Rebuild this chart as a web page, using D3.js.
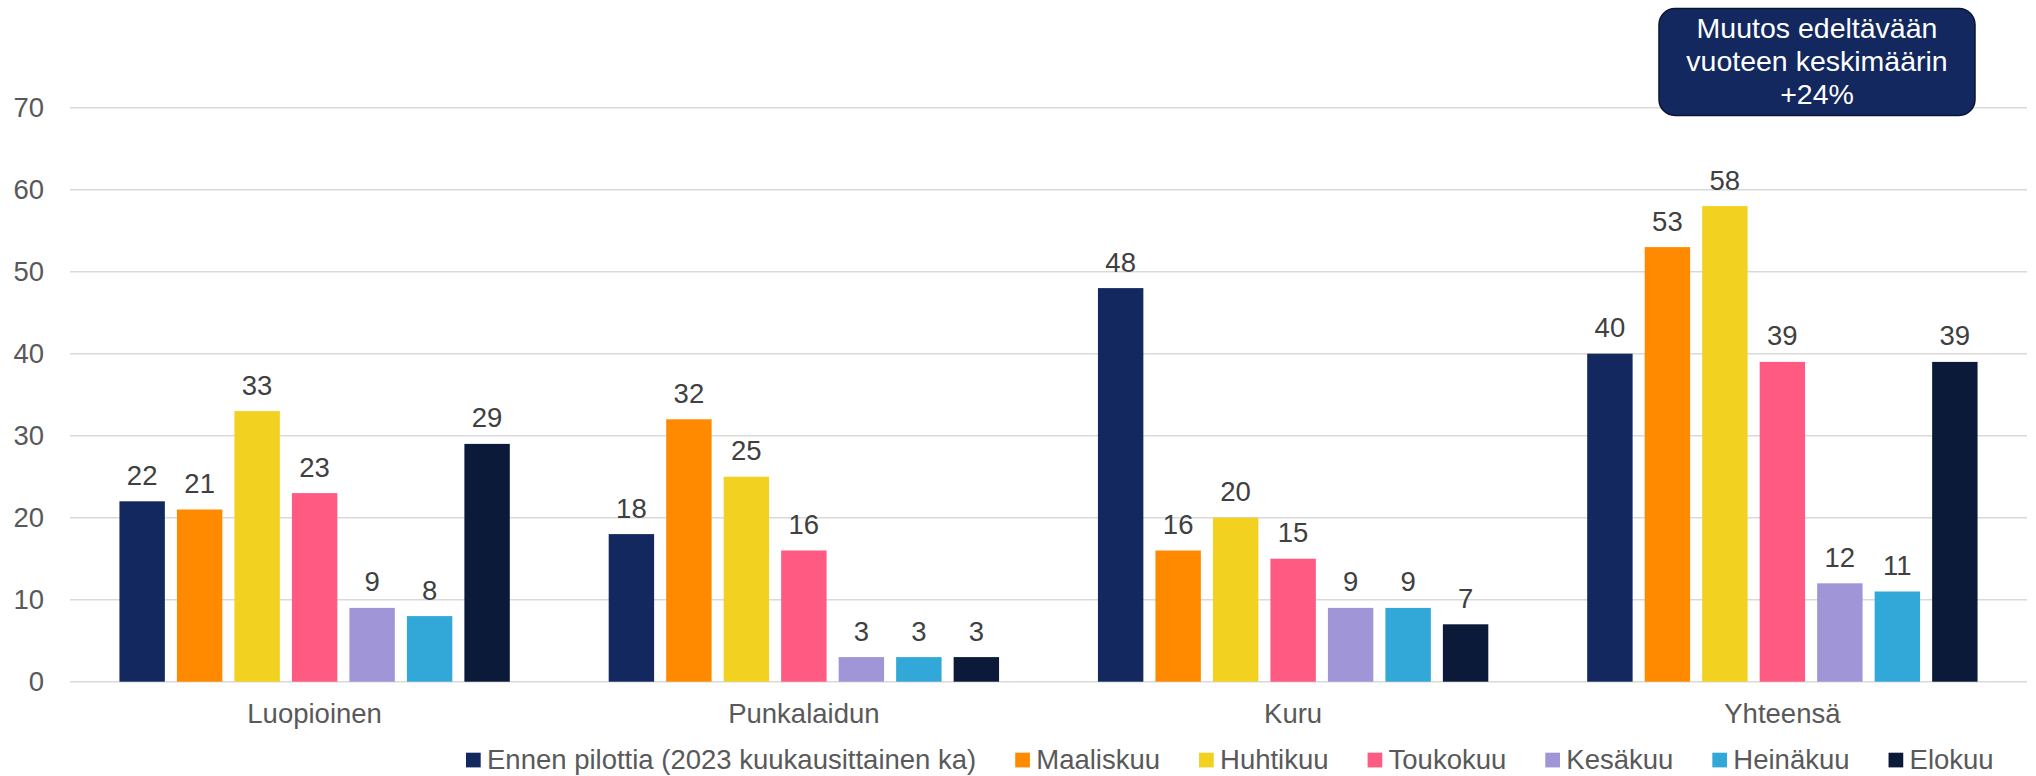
<!DOCTYPE html>
<meta charset="utf-8">
<style>

body {
  margin: 0;
  background: #fff;
}

svg {
  font-family: "Liberation Sans", Arial, sans-serif;
}

.grid line {
  stroke: #d9d9d9;
  stroke-width: 1.5px;
}

.tick-label {
  font-size: 27.5px;
  fill: #595959;
}

.value-label {
  font-size: 27.5px;
  fill: #404040;
}

.legend text {
  font-size: 27.5px;
  fill: #595959;
}

</style>
<svg width="2036" height="776"></svg>
<script src="https://cdn.jsdelivr.net/npm/d3@7"></script>
<script>

var categories = ["Luopioinen", "Punkalaidun", "Kuru", "Yhteensä"];

var seriesNames = [
  "Ennen pilottia (2023 kuukausittainen ka)",
  "Maaliskuu",
  "Huhtikuu",
  "Toukokuu",
  "Kesäkuu",
  "Heinäkuu",
  "Elokuu"
];

var seriesColors = ["#13285f", "#ff8a00", "#f2d121", "#ff5a82", "#a095d6", "#31a8d7", "#0b1a38"];

// one array per series, values in category order
var ennen     = [22, 18, 48, 40];
var maaliskuu = [21, 32, 16, 53];
var huhtikuu  = [33, 25, 20, 58];
var toukokuu  = [23, 16, 15, 39];
var kesakuu   = [9, 3, 9, 12];
var heinakuu  = [8, 3, 9, 11];
var elokuu    = [29, 3, 7, 39];

var yTicks = [0, 10, 20, 30, 40, 50, 60, 70];

var noteLines = ["Muutos edeltävään", "vuoteen keskimäärin", "+24%"];

var seriesValues = [ennen, maaliskuu, huhtikuu, toukokuu, kesakuu, heinakuu, elokuu];

var svg = d3.select("svg");

var x0 = d3.scaleBand()
    .domain(categories)
    .range([70, 2027])
    .padding(0);

var x1 = d3.scaleBand()
    .domain(seriesNames)
    .range([0, x0.bandwidth()])
    .paddingInner(0.21)
    .paddingOuter(0.86);

var y = d3.scaleLinear()
    .domain([0, 70])
    .range([681.7, 107.7]);

var color = d3.scaleOrdinal()
    .domain(seriesNames)
    .range(seriesColors);

// gridlines + tick labels
var grid = svg.append("g")
    .attr("class", "grid")
  .selectAll("g")
  .data(yTicks)
  .enter().append("g")
    .attr("transform", function(d) { return "translate(0," + y(d) + ")"; });

grid.append("line")
    .attr("x1", x0.range()[0])
    .attr("x2", x0.range()[1]);

grid.append("text")
    .attr("class", "tick-label")
    .attr("x", 44)
    .attr("dy", "0.33em")
    .style("text-anchor", "end")
    .text(function(d) { return d; });

// flatten to one record per bar
var bars = [];
categories.forEach(function(c, ci) {
  seriesNames.forEach(function(s, si) {
    bars.push({category: c, series: s, value: seriesValues[si][ci]});
  });
});

var barG = svg.append("g")
  .selectAll("g")
  .data(bars)
  .enter().append("g");

barG.append("rect")
    .attr("x", function(d) { return x0(d.category) + x1(d.series); })
    .attr("y", function(d) { return y(d.value); })
    .attr("width", x1.bandwidth())
    .attr("height", function(d) { return y(0) - y(d.value); })
    .style("fill", function(d) { return color(d.series); });

barG.append("text")
    .attr("class", "value-label")
    .attr("x", function(d) { return x0(d.category) + x1(d.series) + x1.bandwidth() / 2; })
    .attr("y", function(d) { return y(d.value) - 16.5; })
    .style("text-anchor", "middle")
    .text(function(d) { return d.value; });

// category axis labels
svg.append("g")
  .selectAll("text")
  .data(categories)
  .enter().append("text")
    .attr("class", "tick-label")
    .attr("x", function(d) { return x0(d) + x0.bandwidth() / 2; })
    .attr("y", 723)
    .style("text-anchor", "middle")
    .text(function(d) { return d; });

// legend, laid out left to right from measured text widths
var legend = svg.append("g")
    .attr("class", "legend");

var lx = 466;
seriesNames.forEach(function(s) {
  legend.append("rect")
      .attr("x", lx)
      .attr("y", 752.7)
      .attr("width", 14.7)
      .attr("height", 14.7)
      .style("fill", color(s));
  var t = legend.append("text")
      .attr("x", lx + 21)
      .attr("y", 769)
      .text(s);
  lx += 21 + t.node().getComputedTextLength() + 39;
});

// note box top right
var note = svg.append("g")
    .attr("transform", "translate(1659,8.5)");

note.append("rect")
    .attr("width", 316)
    .attr("height", 107)
    .attr("rx", 16)
    .attr("ry", 16)
    .style("fill", "#13285f")
    .style("stroke", "#0a1533")
    .style("stroke-width", 1.5);

note.selectAll("text")
  .data(noteLines)
  .enter().append("text")
    .attr("x", 158)
    .attr("y", function(d, i) { return 29.5 + i * 33; })
    .style("text-anchor", "middle")
    .style("font-size", "28.5px")
    .style("fill", "#fff")
    .text(function(d) { return d; });

</script>
